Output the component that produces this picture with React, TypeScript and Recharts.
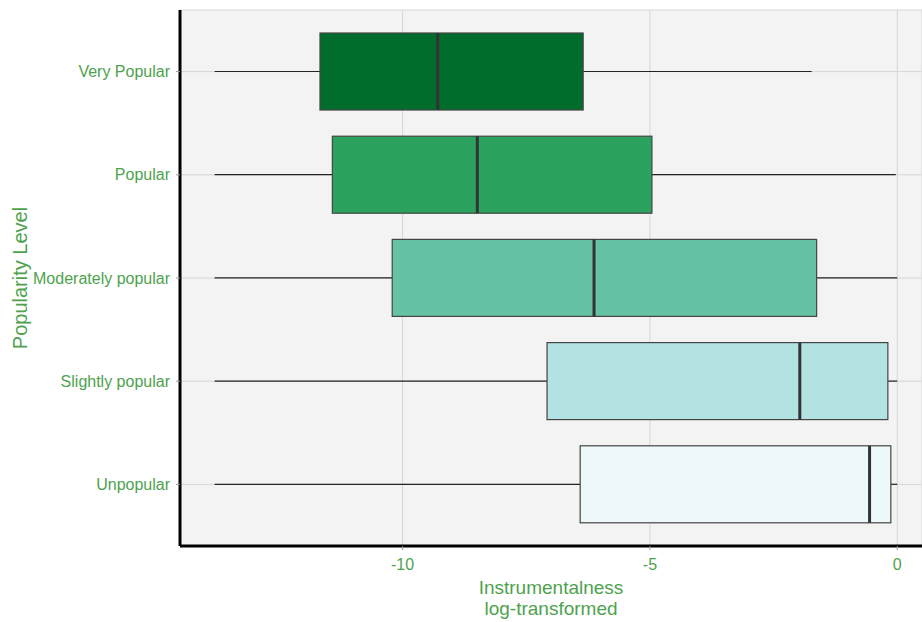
import React from "react";
import { ComposedChart, Bar, XAxis, YAxis, CartesianGrid } from "recharts";

// popularity levels, top to bottom
const levels = ["Very Popular", "Popular", "Moderately popular", "Slightly popular", "Unpopular"];
const whiskerLow = [-13.8, -13.8, -13.8, -13.8, -13.8];
const q1 = [-11.67, -11.42, -10.21, -7.08, -6.41];
const median = [-9.29, -8.49, -6.13, -1.97, -0.56];
const q3 = [-6.35, -4.96, -1.63, -0.19, -0.13];
const whiskerHigh = [-1.73, -0.03, 0, 0, 0];
const boxColors = ["#006D2C", "#2CA25F", "#66C2A4", "#B2E2E2", "#EDF8FB"];
const xTicks = [-10, -5, 0];

const textGreen = "#4EA24E";

const data = levels.map((level, i) => ({
  level,
  lo: whiskerLow[i],
  q1: q1[i],
  med: median[i],
  q3: q3[i],
  hi: whiskerHigh[i],
  color: boxColors[i],
}));

// draws whiskers, box and median, using the bar geometry to map values to pixels
const BoxShape = (props: any) => {
  const { x, y, width, height, payload } = props;
  const k = width / (payload.q3 - payload.q1);
  const px = (v: number) => x + (v - payload.q1) * k;
  const cy = y + height / 2;
  return (
    <g>
      <line x1={px(payload.lo)} x2={px(payload.q1)} y1={cy} y2={cy} stroke="#222" strokeWidth={1.2} />
      <line x1={px(payload.q3)} x2={px(payload.hi)} y1={cy} y2={cy} stroke="#222" strokeWidth={1.2} />
      <rect x={x} y={y} width={width} height={height} fill={payload.color} stroke="#444" strokeWidth={1.2} />
      <line x1={px(payload.med)} x2={px(payload.med)} y1={y} y2={y + height} stroke="#333" strokeWidth={3} />
    </g>
  );
};

const XLabel = (props: any) => {
  const { viewBox } = props;
  const cx = viewBox.x + viewBox.width / 2;
  return (
    <text x={cx} y={viewBox.y + 48} textAnchor="middle" fill={textGreen} fontSize={19}>
      <tspan x={cx} dy={0}>Instrumentalness</tspan>
      <tspan x={cx} dy={21}>log-transformed</tspan>
    </text>
  );
};

export default function App() {
  return (
    <div style={{ position: "absolute", left: 0, top: 0, fontFamily: "'Liberation Sans', Arial, sans-serif" }}>
      <ComposedChart
        width={922}
        height={622}
        data={data}
        layout="vertical"
        margin={{ top: 10, right: 0, bottom: 46, left: 0 }}
        barCategoryGap="12.6%"
      >
        <CartesianGrid fill="#F3F3F3" stroke="#D6D6D6" strokeWidth={1} />
        <XAxis
          type="number"
          domain={[-14.5, 0.5]}
          ticks={xTicks}
          allowDataOverflow
          height={30}
          axisLine={{ stroke: "#000", strokeWidth: 3 }}
          tickLine={{ stroke: "#999" }}
          tickSize={4}
          tick={{ fill: textGreen, fontSize: 16, dy: 7 }}
          label={<XLabel />}
        />
        <YAxis
          type="category"
          dataKey="level"
          width={180}
          padding={{ top: 10, bottom: 10 }}
          axisLine={{ stroke: "#000", strokeWidth: 3 }}
          tickLine={{ stroke: "#999" }}
          tickSize={4}
          tick={{ fill: textGreen, fontSize: 16, dx: -4 }}
          label={{
            value: "Popularity Level",
            angle: -90,
            position: "insideLeft",
            offset: 20,
            style: { textAnchor: "middle", fill: textGreen, fontSize: 20 },
          }}
        />
        <Bar dataKey={(d: any) => [d.q1, d.q3]} shape={<BoxShape />} isAnimationActive={false} />
      </ComposedChart>
    </div>
  );
}
